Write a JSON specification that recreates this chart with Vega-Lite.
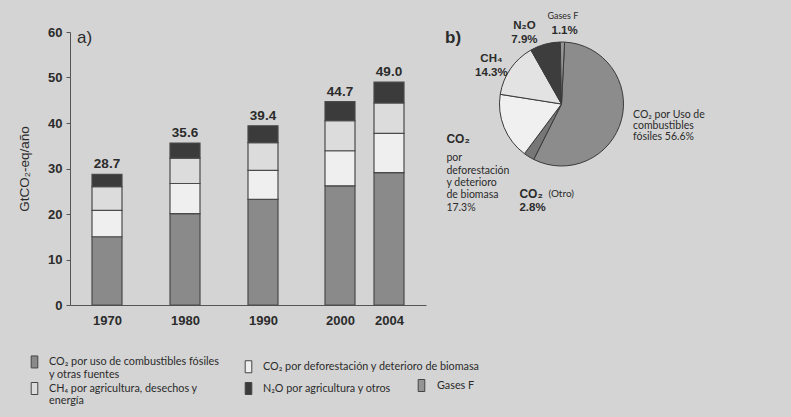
{
  "$schema": "https://vega.github.io/schema/vega-lite/v6.json",
  "background": "#d4d4d4",
  "padding": {"left": 17, "top": -3, "right": 91, "bottom": 12},
  "bounds": "flush",
  "spacing": 17,
  "config": {
    "view": {"stroke": null},
    "font": "Liberation Sans",
    "axis": {"domainColor": "#555555", "tickColor": "#555555", "labelColor": "#2b2b2b", "titleColor": "#2b2b2b", "grid": false}
  },
  "datasets": {
    "barras": [
      {"año": 1970, "orden": 1, "gas": "CO₂ por uso de combustibles fósiles\ny otras fuentes", "valor": 15.0},
      {"año": 1970, "orden": 2, "gas": "CO₂ por deforestación y deterioro de biomasa", "valor": 5.8},
      {"año": 1970, "orden": 3, "gas": "CH₄ por agricultura, desechos y\nenergía", "valor": 5.2},
      {"año": 1970, "orden": 4, "gas": "N₂O por agricultura y otros", "valor": 2.7},
      {"año": 1980, "orden": 1, "gas": "CO₂ por uso de combustibles fósiles\ny otras fuentes", "valor": 20.1},
      {"año": 1980, "orden": 2, "gas": "CO₂ por deforestación y deterioro de biomasa", "valor": 6.6},
      {"año": 1980, "orden": 3, "gas": "CH₄ por agricultura, desechos y\nenergía", "valor": 5.6},
      {"año": 1980, "orden": 4, "gas": "N₂O por agricultura y otros", "valor": 3.3},
      {"año": 1990, "orden": 1, "gas": "CO₂ por uso de combustibles fósiles\ny otras fuentes", "valor": 23.2},
      {"año": 1990, "orden": 2, "gas": "CO₂ por deforestación y deterioro de biomasa", "valor": 6.4},
      {"año": 1990, "orden": 3, "gas": "CH₄ por agricultura, desechos y\nenergía", "valor": 6.1},
      {"año": 1990, "orden": 4, "gas": "N₂O por agricultura y otros", "valor": 3.7},
      {"año": 2000, "orden": 1, "gas": "CO₂ por uso de combustibles fósiles\ny otras fuentes", "valor": 26.2},
      {"año": 2000, "orden": 2, "gas": "CO₂ por deforestación y deterioro de biomasa", "valor": 7.7},
      {"año": 2000, "orden": 3, "gas": "CH₄ por agricultura, desechos y\nenergía", "valor": 6.6},
      {"año": 2000, "orden": 4, "gas": "N₂O por agricultura y otros", "valor": 4.2},
      {"año": 2004, "orden": 1, "gas": "CO₂ por uso de combustibles fósiles\ny otras fuentes", "valor": 29.1},
      {"año": 2004, "orden": 2, "gas": "CO₂ por deforestación y deterioro de biomasa", "valor": 8.6},
      {"año": 2004, "orden": 3, "gas": "CH₄ por agricultura, desechos y\nenergía", "valor": 6.7},
      {"año": 2004, "orden": 4, "gas": "N₂O por agricultura y otros", "valor": 4.6}
    ],
    "torta": [
      {"gas": "CO₂ fósiles", "orden": 1, "pct": 0.566},
      {"gas": "CO₂ (Otro)", "orden": 2, "pct": 0.028},
      {"gas": "CO₂ deforestación", "orden": 3, "pct": 0.173},
      {"gas": "CH₄", "orden": 4, "pct": 0.143},
      {"gas": "N₂O", "orden": 5, "pct": 0.079},
      {"gas": "Gases F", "orden": 6, "pct": 0.011}
    ]
  },
  "resolve": {"scale": {"color": "independent"}, "legend": {"color": "independent"}},
  "hconcat": [
    {
      "width": 356,
      "height": 273,
      "data": {"name": "barras"},
      "title": {"text": "a)", "anchor": "start", "frame": "group", "offset": -21, "dx": 7, "fontSize": 17, "fontWeight": "normal", "color": "#2b2b2b"},
      "layer": [
        {
          "mark": {"type": "bar", "width": 30, "stroke": "#4a4a4a", "strokeWidth": 1.2},
          "encoding": {
            "x": {
              "field": "año", "type": "quantitative",
              "scale": {"domain": [1965, 1970, 1980, 1990, 2000, 2004, 2009], "range": [0, 37, 115, 193, 270, 319, 356], "nice": false, "zero": false},
              "axis": {"values": [1970, 1980, 1990, 2000, 2004], "format": "d", "ticks": false, "title": null, "labelPadding": 9, "labelFontSize": 13, "labelFontWeight": "bold", "labelOverlap": false, "labelFlush": false}
            },
            "y": {
              "field": "valor", "type": "quantitative", "stack": "zero",
              "scale": {"domain": [0, 60], "nice": false},
              "axis": {"values": [0, 10, 20, 30, 40, 50, 60], "tickSize": 4, "labelPadding": 4, "labelFontSize": 13, "labelFontWeight": "bold", "title": "GtCO₂-eq/año", "titleFontSize": 13.5, "titleFontWeight": "normal", "titlePadding": 16}
            },
            "order": {"field": "orden", "type": "quantitative"},
            "color": {
              "field": "gas", "type": "nominal",
              "scale": {
                "domain": ["CO₂ por uso de combustibles fósiles\ny otras fuentes", "CO₂ por deforestación y deterioro de biomasa", "CH₄ por agricultura, desechos y\nenergía", "N₂O por agricultura y otros"],
                "range": ["#8a8a8a", "#efefef", "#dcdcdc", "#3b3b3b"]
              },
              "legend": {
                "orient": "none", "legendX": -42, "legendY": 323, "columns": 2, "title": null, "direction": "horizontal",
                "symbolType": "M-0.55,-1H0.55V1H-0.55Z", "symbolSize": 144, "symbolStrokeColor": "#444444", "symbolStrokeWidth": 1,
                "labelFont": "Lato", "labelFontSize": 10.8, "labelColor": "#2b2b2b", "labelExpr": "split(datum.label, '\\n')",
                "columnPadding": 22, "rowPadding": 0, "labelOffset": 8, "padding": 0, "labelLimit": 400
              }
            }
          }
        },
        {
          "transform": [{"aggregate": [{"op": "sum", "field": "valor", "as": "total"}], "groupby": ["año"]}],
          "mark": {"type": "text", "baseline": "bottom", "dy": -3, "fontSize": 13.5, "fontWeight": "bold", "color": "#2b2b2b"},
          "encoding": {
            "x": {"field": "año", "type": "quantitative"},
            "y": {"field": "total", "type": "quantitative"},
            "text": {"field": "total", "type": "quantitative", "format": ".1f"}
          }
        }
      ]
    },
    {
      "width": 237,
      "height": 144,
      "data": {"name": "torta"},
      "title": {"text": "b)", "anchor": "start", "frame": "group", "offset": -50, "dx": 2, "fontSize": 17, "fontWeight": "bold", "color": "#2b2b2b"},
      "encoding": {
        "theta": {"field": "pct", "type": "quantitative", "stack": true, "scale": {"range": [0.05, 6.3332]}},
        "order": {"field": "orden", "type": "quantitative"}
      },
      "layer": [
        {
          "mark": {"type": "arc", "outerRadius": 62, "stroke": "#3a3a3a", "strokeWidth": 1},
          "encoding": {
            "color": {
              "field": "gas", "type": "nominal",
              "scale": {"domain": ["CO₂ fósiles", "CO₂ (Otro)", "CO₂ deforestación", "CH₄", "N₂O", "Gases F"], "range": ["#8c8c8c", "#777777", "#f0f0f0", "#e3e3e3", "#3d3d3d", "#959595"]},
              "legend": {
                "orient": "none", "legendX": -28, "legendY": 347, "values": ["Gases F"], "title": null,
                "symbolType": "M-0.55,-1H0.55V1H-0.55Z", "symbolSize": 144, "symbolStrokeColor": "#444444", "symbolStrokeWidth": 1,
                "labelFont": "Lato", "labelFontSize": 10.8, "labelColor": "#2b2b2b", "labelOffset": 9, "padding": 0
              }
            }
          }
        },
        {
          "mark": {"type": "text", "radius": 74, "align": "left", "baseline": "middle", "dx": 0, "dy": -8, "font": "Lato", "fontSize": 10.5, "lineHeight": 11, "color": "#2b2b2b"},
          "encoding": {
            "detail": {"field": "gas", "type": "nominal"},
            "text": {"condition": {"test": "datum.gas === 'CO₂ fósiles'", "value": ["CO₂ por Uso de", "combustibles", "fósiles 56.6%"]}, "value": ""}
          }
        },
        {
          "mark": {"type": "text", "radius": 103, "align": "left", "baseline": "middle", "dx": 12, "dy": 2, "fontSize": 12, "fontWeight": "bold", "color": "#2b2b2b"},
          "encoding": {
            "detail": {"field": "gas", "type": "nominal"},
            "text": {"condition": {"test": "datum.gas === 'CO₂ (Otro)'", "value": "CO₂"}, "value": ""}
          }
        },
        {
          "mark": {"type": "text", "radius": 103, "align": "left", "baseline": "middle", "dx": 41, "dy": 2, "font": "Lato", "fontSize": 10, "color": "#2b2b2b"},
          "encoding": {
            "detail": {"field": "gas", "type": "nominal"},
            "text": {"condition": {"test": "datum.gas === 'CO₂ (Otro)'", "value": "(Otro)"}, "value": ""}
          }
        },
        {
          "mark": {"type": "text", "radius": 103, "align": "left", "baseline": "middle", "dx": 12, "dy": 16, "fontSize": 11.5, "fontWeight": "bold", "color": "#2b2b2b"},
          "encoding": {
            "detail": {"field": "gas", "type": "nominal"},
            "text": {"condition": {"test": "datum.gas === 'CO₂ (Otro)'", "value": "2.8%"}, "value": ""}
          }
        },
        {
          "mark": {"type": "text", "radius": 80, "align": "left", "baseline": "middle", "dx": -41, "dy": 5, "fontSize": 12, "fontWeight": "bold", "color": "#2b2b2b"},
          "encoding": {
            "detail": {"field": "gas", "type": "nominal"},
            "text": {"condition": {"test": "datum.gas === 'CO₂ deforestación'", "value": "CO₂"}, "value": ""}
          }
        },
        {
          "mark": {"type": "text", "radius": 80, "align": "left", "baseline": "top", "dx": -41, "dy": 19, "font": "Lato", "fontSize": 10.5, "lineHeight": 12.4, "color": "#2b2b2b"},
          "encoding": {
            "detail": {"field": "gas", "type": "nominal"},
            "text": {"condition": {"test": "datum.gas === 'CO₂ deforestación'", "value": ["por", "deforestación", "y deterioro", "de biomasa", "17.3%"]}, "value": ""}
          }
        },
        {
          "mark": {"type": "text", "radius": 78, "align": "center", "baseline": "middle", "dx": -6, "dy": -1, "fontSize": 11.5, "fontWeight": "bold", "lineHeight": 14, "color": "#2b2b2b"},
          "encoding": {
            "detail": {"field": "gas", "type": "nominal"},
            "text": {"condition": {"test": "datum.gas === 'CH₄'", "value": ["CH₄", "14.3%"]}, "value": ""}
          }
        },
        {
          "mark": {"type": "text", "radius": 76, "align": "center", "baseline": "middle", "dx": -17, "dy": -5, "fontSize": 11.5, "fontWeight": "bold", "lineHeight": 14, "color": "#2b2b2b"},
          "encoding": {
            "detail": {"field": "gas", "type": "nominal"},
            "text": {"condition": {"test": "datum.gas === 'N₂O'", "value": ["N₂O", "7.9%"]}, "value": ""}
          }
        },
        {
          "mark": {"type": "text", "radius": 88, "align": "center", "baseline": "middle", "font": "Lato", "fontSize": 9, "color": "#2b2b2b"},
          "encoding": {
            "detail": {"field": "gas", "type": "nominal"},
            "text": {"condition": {"test": "datum.gas === 'Gases F'", "value": "Gases F"}, "value": ""}
          }
        },
        {
          "mark": {"type": "text", "radius": 73, "align": "center", "baseline": "middle", "dx": 2, "fontSize": 11.5, "fontWeight": "bold", "color": "#2b2b2b"},
          "encoding": {
            "detail": {"field": "gas", "type": "nominal"},
            "text": {"condition": {"test": "datum.gas === 'Gases F'", "value": "1.1%"}, "value": ""}
          }
        }
      ]
    }
  ]
}
